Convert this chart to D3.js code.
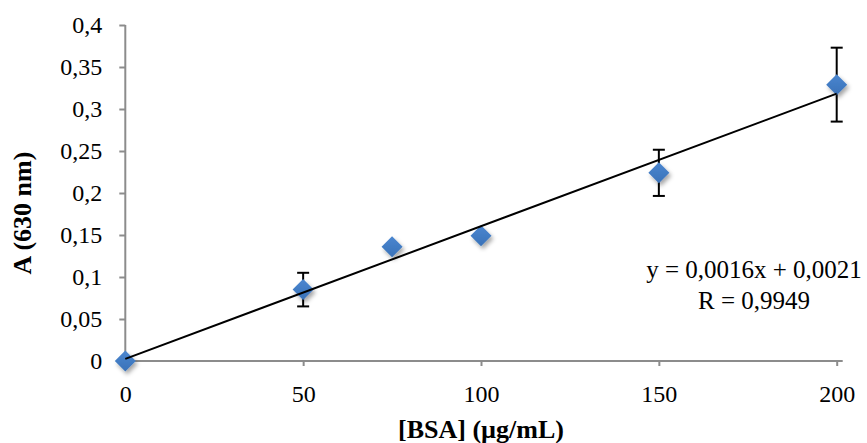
<!DOCTYPE html>
<html>
<head>
<meta charset="utf-8">
<style type="text/css">
body { margin: 0; background: #fff; }
svg { display: block; font-family: "Liberation Serif", "Times New Roman", serif; }
.axis text { font-size: 24px; fill: #000; font-family: "Liberation Serif", "Times New Roman", serif; }
.axis line, .axisline { stroke: #8c8c8c; stroke-width: 2; }
.title { font-size: 26px; font-weight: bold; }
.trend { stroke: #000; stroke-width: 2; fill: none; }
.err { stroke: #000; stroke-width: 2; }
.eq { font-size: 25px; }
</style>
<script src="https://d3js.org/d3.v7.min.js"></script>
</head>
<body>
<script type="text/javascript">
// data
var conc   = [0, 50, 75, 100, 150, 200];
var absorb = [0, 0.085, 0.136, 0.149, 0.224, 0.329];
var errs   = [0, 0.02, 0, 0, 0.0275, 0.044];
var xTicks = [0, 50, 100, 150, 200];
var yTicks = [0, 0.05, 0.1, 0.15, 0.2, 0.25, 0.3, 0.35, 0.4];
var eqLines = ["y = 0,0016x + 0,0021", "R = 0,9949"];

var width = 867, height = 443;
var data = conc.map(function(c, i) { return {x: c, y: absorb[i], e: errs[i]}; });

var svg = d3.select("body").append("svg").attr("width", width).attr("height", height);

var x = d3.scaleLinear().domain([0, 200]).range([125.3, 836.7]);
var y = d3.scaleLinear().domain([0, 0.4]).range([361, 25]);

var loc = d3.formatLocale({decimal: ",", thousands: ".", grouping: [3], currency: ["", ""]});
var fmt = loc.format(".2~f");

// axes
var yAxis = svg.append("g").attr("class", "axis").attr("transform", "translate(" + x(0) + ",0)")
	.call(d3.axisLeft(y).tickValues(yTicks).tickFormat(fmt).tickSize(6).tickSizeOuter(0).tickPadding(17));
yAxis.select(".domain").remove();
var xAxis = svg.append("g").attr("class", "axis").attr("transform", "translate(0," + y(0) + ")")
	.call(d3.axisBottom(x).tickValues(xTicks).tickFormat(fmt).tickSize(5).tickSizeOuter(0).tickPadding(19));
xAxis.select(".domain").remove();
svg.selectAll(".axis").attr("font-family", null);

svg.append("line").attr("class", "axisline")
	.attr("x1", x(0)).attr("x2", x(0)).attr("y1", y(0.4)).attr("y2", y(0));
svg.append("line").attr("class", "axisline")
	.attr("x1", x(0)).attr("x2", x(200) + 6).attr("y1", y(0)).attr("y2", y(0));

// axis titles
svg.append("text").attr("class", "title").attr("text-anchor", "middle")
	.attr("x", x(100)).attr("y", 438).text("[BSA] (µg/mL)");
svg.append("text").attr("class", "title").attr("text-anchor", "middle")
	.attr("transform", "translate(31,213) rotate(-90)").text("A (630 nm)");

// marker shadow
var defs = svg.append("defs");
var f = defs.append("filter").attr("id", "shadow").attr("x", "-50%").attr("y", "-50%").attr("width", "200%").attr("height", "200%");
f.append("feDropShadow").attr("dx", 2).attr("dy", 3).attr("stdDeviation", 2)
	.attr("flood-color", "#000").attr("flood-opacity", 0.35);
var grad = defs.append("linearGradient").attr("id", "mk").attr("x1", 0).attr("y1", 0).attr("x2", 0).attr("y2", 1);
grad.append("stop").attr("offset", "0%").attr("stop-color", "#4a86d0");
grad.append("stop").attr("offset", "100%").attr("stop-color", "#3a72b8");

// error bars
var eb = svg.append("g").selectAll("g").data(data.filter(function(d) { return d.e > 0; })).enter().append("g");
eb.append("line").attr("class", "err")
	.attr("x1", function(d) { return x(d.x); }).attr("x2", function(d) { return x(d.x); })
	.attr("y1", function(d) { return y(d.y + d.e); }).attr("y2", function(d) { return y(d.y - d.e); });
eb.append("line").attr("class", "err")
	.attr("x1", function(d) { return x(d.x) - 6; }).attr("x2", function(d) { return x(d.x) + 6; })
	.attr("y1", function(d) { return y(d.y + d.e); }).attr("y2", function(d) { return y(d.y + d.e); });
eb.append("line").attr("class", "err")
	.attr("x1", function(d) { return x(d.x) - 6; }).attr("x2", function(d) { return x(d.x) + 6; })
	.attr("y1", function(d) { return y(d.y - d.e); }).attr("y2", function(d) { return y(d.y - d.e); });

// markers
svg.append("g").selectAll("path").data(data).enter().append("path")
	.attr("d", "M0,-10.5L10.5,0L0,10.5L-10.5,0Z")
	.attr("fill", "url(#mk)")
	.attr("filter", "url(#shadow)")
	.attr("transform", function(d) { return "translate(" + x(d.x) + "," + y(d.y) + ")"; });

// linear trend line (least squares)
var mx = d3.mean(conc), my = d3.mean(absorb);
var sxy = d3.sum(data, function(d) { return (d.x - mx) * (d.y - my); });
var sxx = d3.sum(data, function(d) { return (d.x - mx) * (d.x - mx); });
var slope = sxy / sxx, icpt = my - slope * mx;
var line = d3.line().x(function(d) { return x(d); }).y(function(d) { return y(slope * d + icpt); });
svg.append("path").datum([0, 200]).attr("class", "trend").attr("d", line);

// equation
svg.append("g").selectAll("text").data(eqLines).enter().append("text")
	.attr("class", "eq").attr("text-anchor", "middle")
	.attr("x", 754).attr("y", function(d, i) { return 278 + i * 31; })
	.text(function(d) { return d; });
</script>
</body>
</html>
